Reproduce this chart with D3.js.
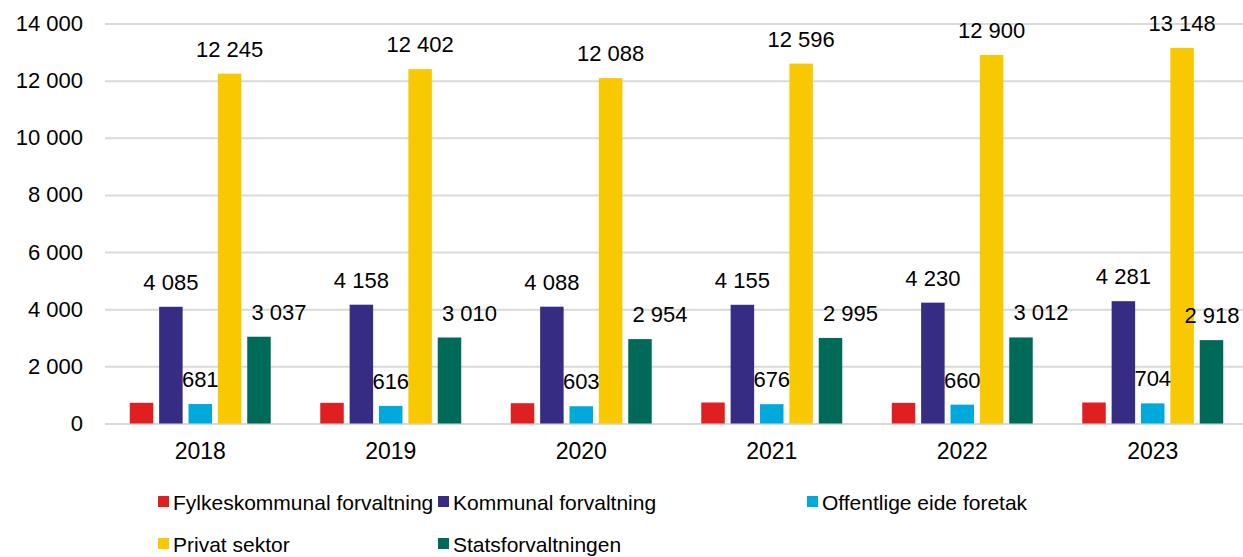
<!DOCTYPE html>
<html>
  <head>
    <meta charset="utf-8">
    <title>Sysselsatte etter sektor</title>
    <script src="https://d3js.org/d3.v7.min.js"></script>
    <style>
      body { margin: 0; background: #fff; }
      svg { font-family: "Liberation Sans", Arial, sans-serif; }
      .axis .tick line { stroke: #d9d9d9; stroke-width: 2px; }
      .axis .tick text { font-size: 22px; fill: #000; }
      .axis.x .tick text { font-size: 23px; }
      .axis .domain { display: none; }
      .label { font-size: 22px; fill: #000; text-anchor: middle; }
      .legend text { font-size: 21px; fill: #000; }
    </style>
  </head>
  <body>
    <svg width="1243" height="557"></svg>
    <script>
      const years = ["2018", "2019", "2020", "2021", "2022", "2023"];
      const seriesNames = ["Fylkeskommunal forvaltning", "Kommunal forvaltning",
        "Offentlige eide foretak", "Privat sektor", "Statsforvaltningen"];
      const fylkeskommunal = [724, 722, 710, 735, 722, 735];
      const kommunal = [4085, 4158, 4088, 4155, 4230, 4281];
      const offentligeForetak = [681, 616, 603, 676, 660, 704];
      const privatSektor = [12245, 12402, 12088, 12596, 12900, 13148];
      const stat = [3037, 3010, 2954, 2995, 3012, 2918];
      const yTicks = [0, 2000, 4000, 6000, 8000, 10000, 12000, 14000];
      // which series get value labels
      const labelled = [false, true, true, true, true];

      const colors = ["#e02020", "#372c84", "#00a9dc", "#f8c800", "#006a59"];
      const values = [fylkeskommunal, kommunal, offentligeForetak, privatSektor, stat];

      const svg = d3.select("svg");
      const width = +svg.attr("width");

      const x0 = d3.scaleBand()
        .domain(years)
        .range([105, 1248])
        .paddingInner(0.26)
        .paddingOuter(0.13);
      const x1 = d3.scaleBand()
        .domain(seriesNames)
        .range([0, x0.bandwidth()])
        .paddingInner(0.2);
      const y = d3.scaleLinear()
        .domain([0, 14000])
        .range([423.5, 23.5]);

      const fmt = v => d3.format(",")(v).replace(/,/g, " ");

      const yAxis = d3.axisLeft(y)
        .tickValues(yTicks)
        .tickFormat(fmt)
        .tickSize(-(width - 105))
        .tickPadding(22);
      svg.append("g")
        .attr("class", "axis")
        .attr("transform", "translate(105,0)")
        .call(yAxis);

      const xAxis = d3.axisBottom(x0).tickSize(0).tickPadding(19);
      svg.append("g")
        .attr("class", "axis x")
        .attr("transform", "translate(0,423.5)")
        .call(xAxis);

      const rows = [];
      years.forEach((yr, i) => {
        seriesNames.forEach((s, j) => rows.push({year: yr, series: s, j: j, value: values[j][i]}));
      });

      svg.append("g").selectAll("rect").data(rows)
        .enter().append("rect")
          .attr("x", d => x0(d.year) + x1(d.series))
          .attr("y", d => y(d.value))
          .attr("width", x1.bandwidth())
          .attr("height", d => y(0) - y(d.value))
          .attr("fill", d => colors[d.j]);

      svg.append("g").selectAll("text").data(rows.filter(d => labelled[d.j]))
        .enter().append("text")
          .attr("class", "label")
          .attr("x", d => {
            let cx = x0(d.year) + x1(d.series) + x1.bandwidth() / 2;
            if (d.j === 4) cx = Math.min(cx + 20, width - 31);
            return cx;
          })
          .attr("y", d => y(d.value) - 17)
          .text(d => fmt(d.value));

      // legend
      const legendPos = [[173, 510], [453, 510], [822, 510], [173, 552], [453, 552]];
      const legend = svg.append("g").attr("class", "legend");
      seriesNames.forEach((s, j) => {
        const [lx, ly] = legendPos[j];
        legend.append("rect")
          .attr("x", lx - 15).attr("y", ly - 14)
          .attr("width", 11).attr("height", 11)
          .attr("fill", colors[j]);
        legend.append("text").attr("x", lx).attr("y", ly).text(s);
      });
    </script>
  </body>
</html>
